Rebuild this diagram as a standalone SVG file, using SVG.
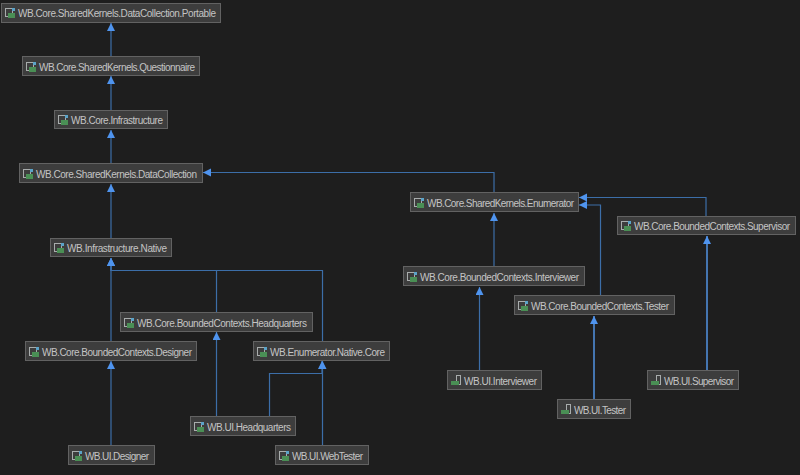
<svg xmlns="http://www.w3.org/2000/svg" width="800" height="475" viewBox="0 0 800 475">
<style>
.n{fill:#3d3d3d;stroke:#626262;stroke-width:1}
.t{font-family:"Liberation Sans","Noto Sans",sans-serif;font-size:10px;fill:#c4c4c4}
.c{fill:none;stroke:#3c6ea8;stroke-width:1.2}
.b{stroke:#559bf0;stroke-width:1.4}
.i1{fill:none;stroke:#a8acac;stroke-width:1}
.i2{fill:#4a8f55}
.i3{fill:#5ba3c8}
</style>
<defs>
<marker id="a" markerUnits="userSpaceOnUse" markerWidth="9" markerHeight="9" refX="8" refY="4" orient="auto"><path d="M0 0L8 4L0 8Z" fill="#4f94ee"/></marker>
<g id="ic"><rect class="i1" x="0.5" y="0.5" width="7" height="8"/><rect class="i2" x="3" y="5" width="7" height="5"/><rect class="i3" x="7" y="0" width="3" height="3"/></g>
<g id="ip"><rect class="i1" x="5.5" y="0.5" width="4" height="9"/><rect class="i2" x="0" y="6" width="8" height="4"/></g>
</defs>
<rect width="800" height="475" fill="#1e1e1e"/>
<g id="connectors">
<path class="c" d="M111 56V23" marker-end="url(#a)"/>
<path class="c" d="M111 110V76" marker-end="url(#a)"/>
<path class="c" d="M111 163V130" marker-end="url(#a)"/>
<path class="c" d="M111 238V184" marker-end="url(#a)"/>
<path class="c" d="M494 192V172.500H203" marker-end="url(#a)"/>
<path class="c" d="M111 341V258" marker-end="url(#a)"/>
<path class="c" d="M216.500 312V270.500H111V258" marker-end="url(#a)"/>
<path class="c" d="M322.500 341V270.500H111V258" marker-end="url(#a)"/>
<path class="c" d="M111 445V361" marker-end="url(#a)"/>
<path class="c" d="M216.500 416V332" marker-end="url(#a)"/>
<path class="c" d="M269.500 416V373.500H322V361" marker-end="url(#a)"/>
<path class="c" d="M322.500 445V361" marker-end="url(#a)"/>
<path class="c" d="M494 266V213" marker-end="url(#a)"/>
<path class="c" d="M600.500 295V205H579" marker-end="url(#a)"/>
<path class="c" d="M706 216V197.500H579" marker-end="url(#a)"/>
<path class="c" d="M479.500 370V287" marker-end="url(#a)"/>
<path class="c b" d="M594 399V316" marker-end="url(#a)"/>
<path class="c b" d="M707 370V236" marker-end="url(#a)"/>
</g>
<g id="n1"><rect class="n" x="1.500" y="3.500" width="219" height="19"/><use href="#ic" x="5" y="8"/><text class="t" x="18" y="17" textLength="198">WB.Core.SharedKernels.DataCollection.Portable</text></g>
<g id="n2"><rect class="n" x="22.500" y="56.500" width="177" height="19"/><use href="#ic" x="26" y="62"/><text class="t" x="39" y="70.500" textLength="156">WB.Core.SharedKernels.Questionnaire</text></g>
<g id="n3"><rect class="n" x="54.500" y="110.500" width="113" height="18"/><use href="#ic" x="58" y="115"/><text class="t" x="71" y="123.500" textLength="92">WB.Core.Infrastructure</text></g>
<g id="n4"><rect class="n" x="19.500" y="163.500" width="183" height="19"/><use href="#ic" x="23" y="169"/><text class="t" x="36" y="177.500" textLength="161">WB.Core.SharedKernels.DataCollection</text></g>
<g id="n5"><rect class="n" x="50.500" y="238.500" width="121" height="18"/><use href="#ic" x="54" y="243"/><text class="t" x="67" y="252" textLength="100">WB.Infrastructure.Native</text></g>
<g id="n6"><rect class="n" x="120.500" y="312.500" width="192" height="19"/><use href="#ic" x="124" y="318"/><text class="t" x="137" y="326.500" textLength="170">WB.Core.BoundedContexts.Headquarters</text></g>
<g id="n7"><rect class="n" x="25.500" y="341.500" width="171" height="19"/><use href="#ic" x="29" y="347"/><text class="t" x="42" y="355.500" textLength="150">WB.Core.BoundedContexts.Designer</text></g>
<g id="n8"><rect class="n" x="253.500" y="341.500" width="136" height="19"/><use href="#ic" x="257" y="347"/><text class="t" x="270" y="355.500" textLength="115">WB.Enumerator.Native.Core</text></g>
<g id="n9"><rect class="n" x="190.500" y="416.500" width="105" height="19"/><use href="#ic" x="194" y="422"/><text class="t" x="207" y="430.500" textLength="84">WB.UI.Headquarters</text></g>
<g id="n10"><rect class="n" x="68.500" y="445.500" width="86" height="19"/><use href="#ic" x="72" y="451"/><text class="t" x="85" y="459.500" textLength="64">WB.UI.Designer</text></g>
<g id="n11"><rect class="n" x="275.500" y="445.500" width="93" height="19"/><use href="#ic" x="279" y="451"/><text class="t" x="292" y="459.500" textLength="71">WB.UI.WebTester</text></g>
<g id="n12"><rect class="n" x="410.500" y="192.500" width="168" height="19"/><use href="#ic" x="414" y="198"/><text class="t" x="427" y="206.500" textLength="147">WB.Core.SharedKernels.Enumerator</text></g>
<g id="n13"><rect class="n" x="617.500" y="216.500" width="178" height="18"/><use href="#ic" x="621" y="221"/><text class="t" x="634" y="229.500" textLength="156">WB.Core.BoundedContexts.Supervisor</text></g>
<g id="n14"><rect class="n" x="403.500" y="266.500" width="181" height="19"/><use href="#ic" x="407" y="272"/><text class="t" x="420" y="280.500" textLength="159">WB.Core.BoundedContexts.Interviewer</text></g>
<g id="n15"><rect class="n" x="514.500" y="295.500" width="160" height="19"/><use href="#ic" x="518" y="301"/><text class="t" x="531" y="309.500" textLength="138">WB.Core.BoundedContexts.Tester</text></g>
<g id="n16"><rect class="n" x="447.500" y="370.500" width="94" height="19"/><use href="#ip" x="451" y="375"/><text class="t" x="464" y="384.500" textLength="73">WB.UI.Interviewer</text></g>
<g id="n17"><rect class="n" x="557.500" y="399.500" width="73" height="19"/><use href="#ip" x="561" y="404"/><text class="t" x="574" y="413.500" textLength="52">WB.UI.Tester</text></g>
<g id="n18"><rect class="n" x="647.500" y="370.500" width="91" height="19"/><use href="#ip" x="651" y="375"/><text class="t" x="664" y="384.500" textLength="70">WB.UI.Supervisor</text></g>
</svg>
